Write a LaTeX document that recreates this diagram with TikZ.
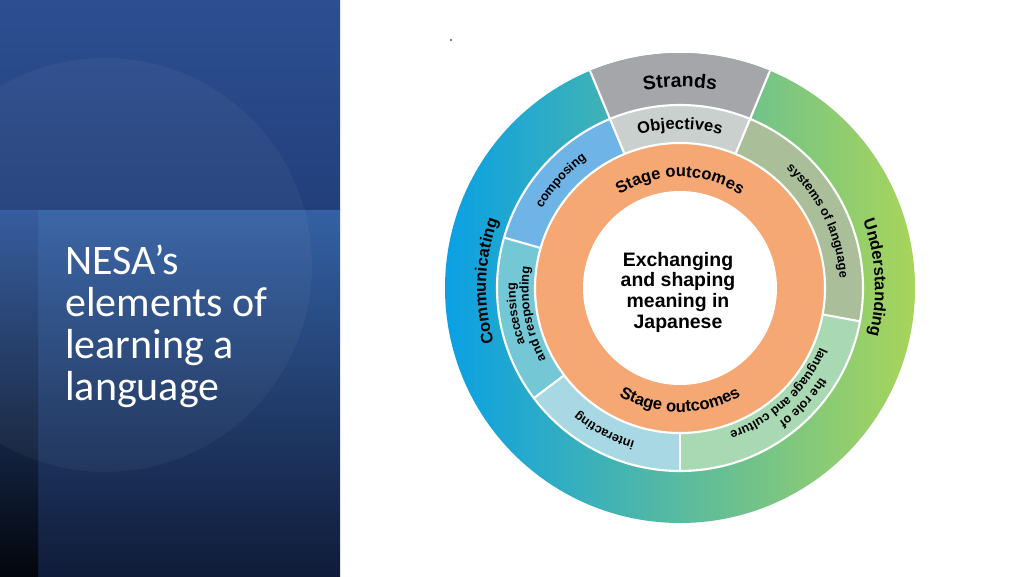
\documentclass[tikz,border=0pt]{standalone}
\usepackage{fontspec}
\setmainfont{Liberation Sans}
\newfontfamily\titlefont{Carlito}
\usetikzlibrary{decorations.text}

\definecolor{panelTop}{HTML}{2D4F91}
\definecolor{panelMid}{HTML}{223F7B}
\definecolor{bandTop}{HTML}{3461A4}
\definecolor{bandBottom}{HTML}{101B38}
\definecolor{stripTop}{HTML}{2F579B}
\definecolor{stripBottom}{HTML}{03060D}
\definecolor{ringBlue}{HTML}{0AA0E4}
\definecolor{ringTeal}{HTML}{1DB8A9}
\definecolor{ringLime}{HTML}{A8D55A}
\definecolor{strandGrey}{HTML}{A4A6A9}
\definecolor{objGrey}{HTML}{C9D0CD}
\definecolor{compBlue}{HTML}{6EB4E6}
\definecolor{accTeal}{HTML}{74C8D6}
\definecolor{interBlue}{HTML}{A7D8E3}
\definecolor{cultGreen}{HTML}{A9D9B3}
\definecolor{sysSage}{HTML}{AABF99}
\definecolor{stageOrange}{HTML}{F6A874}

\newcommand{\strandfont}{\fontsize{14.6}{16}\selectfont\bfseries}
\newcommand{\ringfont}{\fontsize{12.4}{14}\selectfont\bfseries}
\newcommand{\smallring}{\fontsize{9.5}{11}\selectfont\bfseries}

\begin{document}
\begin{tikzpicture}[x=0.75pt, y=0.75pt,
	sep/.style={white, line width=1.6pt},
	ringtext/.style={decorate, decoration={text along path, text align=center, text={#1}}}]
	\useasboundingbox (0,0) rectangle (1024,576);
	\fill[white] (0,0) rectangle (1024,576);

	% left panel
	\shade[top color=panelTop, bottom color=panelMid] (0,366) rectangle (340,576);
	\shade[top color=bandTop, bottom color=bandBottom] (38,0) rectangle (340,366);
	\shade[top color=stripTop, bottom color=stripBottom] (0,0) rectangle (38,366);
	\fill[white, fill opacity=0.04] (105,311) circle[radius=207];
	\node[anchor=north west, inner sep=0, align=left, text=white,
		font=\titlefont\fontsize{31.5}{31.5}\selectfont] (title) at (65,331)
		{NESA’s\\elements of\\learning a\\language};

	\fill (451,536) circle[radius=0.8];

	\begin{scope}[shift={(680,288)}]
	\shade[left color=ringBlue, middle color=ringTeal, right color=ringLime] (0,0) circle[radius=235];
	\fill[strandGrey] (67.5:183) arc[start angle=67.5, end angle=112.5, radius=183]
		-- (112.5:235) arc[start angle=112.5, end angle=67.5, radius=235] -- cycle;
	\foreach \a/\b/\col in {67.5/112.5/objGrey, 112.5/164/compBlue, 164/217/accTeal,
		217/270/interBlue, 270/349.5/cultGreen, -10.5/67.5/sysSage}
		\fill[\col] (\a:145) arc[start angle=\a, end angle=\b, radius=145]
			-- (\b:183) arc[start angle=\b, end angle=\a, radius=183] -- cycle;
	\fill[stageOrange] (0,0) circle[radius=145];
	\fill[white] (0,0) circle[radius=97];

	\draw[sep] (0,0) circle[radius=183] (0,0) circle[radius=145];
	\foreach \a in {67.5, 112.5}
		\draw[sep] (\a:183) -- (\a:235);
	\foreach \a in {67.5, 112.5, 164, 217, 270, 349.5}
		\draw[sep] (\a:145) -- (\a:183);

	% outer ring
	\path[ringtext=|\strandfont|Strands] (125:201) arc[start angle=125, end angle=55, radius=201];
	\path[ringtext=|\ringfont|Communicating] (213:194) arc[start angle=213, end angle=143, radius=194];
	\path[ringtext=|\ringfont|Understanding] (38:195) arc[start angle=38, end angle=-32, radius=195];

	% middle ring
	\path[ringtext=|\ringfont|Objectives] (130:159) arc[start angle=130, end angle=50, radius=159];
	\path[ringtext=|\smallring|composing] (168:159) arc[start angle=168, end angle=108, radius=159];
	\path[ringtext=|\smallring|systems of language] (58:160) arc[start angle=58, end angle=-6, radius=160];
	\path[ringtext=|\smallring|accessing] (214:164.5) arc[start angle=214, end angle=164, radius=164.5];
	\path[ringtext=|\smallring|and responding] (220:151.5) arc[start angle=220, end angle=160, radius=151.5];
	\path[ringtext=|\smallring|interacting] (272:160) arc[start angle=272, end angle=212, radius=160];
	\path[ringtext=|\smallring|the role of] (347:166.5) arc[start angle=347, end angle=287, radius=166.5];
	\path[ringtext=|\smallring|language and culture] (345:152) arc[start angle=345, end angle=281, radius=152];

	% stage outcomes
	\path[ringtext=|\ringfont|Stage outcomes] (150:111) arc[start angle=150, end angle=30, radius=111];
	\path[ringtext=|\ringfont|Stage outcomes] (220:124) arc[start angle=220, end angle=320, radius=124];

	\node[align=center, inner sep=0, font=\fontsize{14.6}{15.5}\selectfont\bfseries] (core) at (-2,-4)
		{Exchanging\\and shaping\\meaning in\\Japanese};
	\end{scope}
\end{tikzpicture}
\end{document}
